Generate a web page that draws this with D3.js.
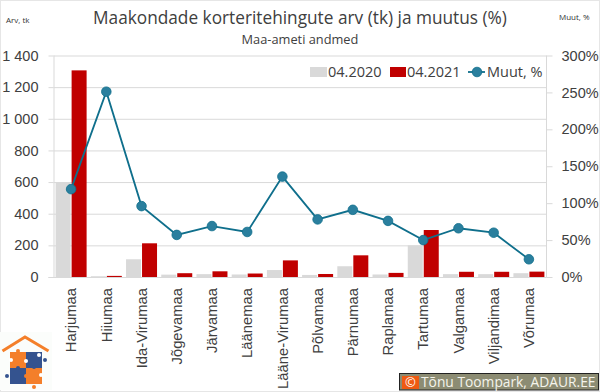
<!DOCTYPE html>
<html>
<head>
<meta charset="utf-8">
<script src="https://cdn.jsdelivr.net/npm/d3@7"></script>
<style>
    html, body { margin: 0; padding: 0; background: #fff; }
    svg { display: block; font-family: "Open Sans", sans-serif; }
</style>
</head>
<body>
<svg id="chart" width="600" height="392"></svg>
<script>
const counties = ["Harjumaa", "Hiiumaa", "Ida-Virumaa", "Jõgevamaa", "Järvamaa", "Läänemaa", "Lääne-Virumaa",
    "Põlvamaa", "Pärnumaa", "Raplamaa", "Tartumaa", "Valgamaa", "Viljandimaa", "Võrumaa"];
const values2020 = [600, 5, 112, 15, 18, 16, 44, 13, 68, 16, 200, 18, 18, 24];
const values2021 = [1306, 7, 213, 24, 36, 22, 105, 19, 137, 26, 297, 33, 33, 34];
const changePct = [119, 251, 96, 57, 69, 61, 136, 78, 91, 76, 50, 66, 60, 24];
const countTicks = [0, 200, 400, 600, 800, 1000, 1200, 1400];
const pctTicks = [0, 50, 100, 150, 200, 250, 300];

const GREY = "#d9d9d9", RED = "#c00000", TEAL = "#0f6f8c", MARKER = "#2a7f9e", GRID = "#d9d9d9", TEXT = "#404040";
const plotLeft = 53.5, plotRight = 546.5, plotTop = 55.5, plotBottom = 277;

const svg = d3.select("#chart");

// faint picture frame
svg.append("rect").attr("x", 0.5).attr("y", 0.5).attr("width", 599).attr("height", 391)
    .attr("fill", "#fff").attr("stroke", "#e6e6e6");

const x = d3.scaleBand().domain(counties).range([plotLeft, plotRight]);
const y = d3.scaleLinear().domain([0, 1400]).range([plotBottom, plotTop]);
const yPct = d3.scaleLinear().domain([0, 300]).range([plotBottom, plotTop]);
const barW = 15;

// left axis, the ticks double as gridlines
const yAxis = svg.append("g").attr("transform", `translate(${plotLeft},0)`)
    .call(d3.axisLeft(y).tickValues(countTicks).tickSize(5)
        .tickFormat(d => d3.format(",")(d).replace(",", " ")));
yAxis.select(".domain").attr("stroke", GRID).attr("d", `M0.5,${plotTop}V${plotBottom}`);
yAxis.selectAll(".tick line").attr("stroke", GRID).clone()
    .attr("x1", 0).attr("x2", plotRight - plotLeft);
yAxis.selectAll(".tick text").attr("x", -15).attr("fill", TEXT).attr("font-size", 14.5);

const yAxisR = svg.append("g").attr("transform", `translate(${plotRight},0)`)
    .call(d3.axisRight(yPct).tickValues(pctTicks).tickSize(6).tickFormat(d => d + "%"));
yAxisR.select(".domain").attr("stroke", GRID).attr("d", `M0,${plotTop}V${plotBottom}`);
yAxisR.selectAll(".tick line").attr("stroke", GRID);
yAxisR.selectAll(".tick text").attr("x", 15).attr("fill", TEXT).attr("font-size", 14.5);

// bars
const center = d => x(d) + x.bandwidth() / 2;
svg.append("g").selectAll("rect").data(counties).join("rect")
    .attr("x", d => center(d) - barW - 0.5)
    .attr("width", barW)
    .attr("y", (d, i) => y(values2020[i]))
    .attr("height", (d, i) => plotBottom - y(values2020[i]))
    .attr("fill", GREY);
svg.append("g").selectAll("rect").data(counties).join("rect")
    .attr("x", d => center(d) + 0.5)
    .attr("width", barW)
    .attr("y", (d, i) => y(values2021[i]))
    .attr("height", (d, i) => plotBottom - y(values2021[i]))
    .attr("fill", RED);

// baseline + category labels
const xAxis = svg.append("g").attr("transform", `translate(0,${plotBottom})`)
    .call(d3.axisBottom(x).tickSize(0));
xAxis.select(".domain").attr("stroke", GRID).attr("d", `M${plotLeft - 5},0.5H${plotRight}`);
xAxis.selectAll(".tick text")
    .attr("transform", "rotate(-90)")
    .attr("text-anchor", "end")
    .attr("x", -11).attr("y", 0).attr("dy", "0.35em")
    .attr("fill", TEXT).attr("font-size", 14.8);

// change line
const line = d3.line().x(d => center(d)).y((d, i) => yPct(changePct[i]));
svg.append("path").datum(counties).attr("d", line)
    .attr("fill", "none").attr("stroke", TEAL).attr("stroke-width", 1.8);
svg.append("g").selectAll("circle").data(counties).join("circle")
    .attr("cx", d => center(d))
    .attr("cy", (d, i) => yPct(changePct[i]))
    .attr("r", 4.8)
    .attr("fill", MARKER).attr("stroke", TEAL).attr("stroke-width", 0.8);

// titles
svg.append("text").attr("x", 300).attr("y", 24).attr("text-anchor", "middle")
    .attr("fill", TEXT).attr("font-size", 17.25).text("Maakondade korteritehingute arv (tk) ja muutus (%)");
svg.append("text").attr("x", 300).attr("y", 44).attr("text-anchor", "middle")
    .attr("fill", TEXT).attr("font-size", 12.8).text("Maa-ameti andmed");
svg.append("text").attr("x", 6).attr("y", 23).attr("fill", "#333").attr("font-size", 8).text("Arv, tk");
svg.append("text").attr("x", 559).attr("y", 20).attr("fill", "#333").attr("font-size", 8).text("Muut, %");

// legend
const legend = svg.append("g").attr("font-size", 14.5).attr("fill", TEXT);
legend.append("rect").attr("x", 310).attr("y", 67).attr("width", 17).attr("height", 10).attr("fill", GREY);
legend.append("text").attr("x", 328).attr("y", 77).text("04.2020");
legend.append("rect").attr("x", 390).attr("y", 67).attr("width", 16).attr("height", 10).attr("fill", RED);
legend.append("text").attr("x", 407).attr("y", 77).text("04.2021");
legend.append("line").attr("x1", 468).attr("x2", 485).attr("y1", 72).attr("y2", 72)
    .attr("stroke", TEAL).attr("stroke-width", 1.8);
legend.append("circle").attr("cx", 477).attr("cy", 72).attr("r", 4.8)
    .attr("fill", MARKER).attr("stroke", TEAL).attr("stroke-width", 0.8);
legend.append("text").attr("x", 487).attr("y", 77).text("Muut, %");

// logo: house roof over four puzzle pieces
const logo = svg.append("g");
const ORANGE = "#f47f2a", BLUE = "#34538f";
logo.append("rect").attr("x", 0).attr("y", 332).attr("width", 52).attr("height", 58).attr("fill", "#fbfdfb");
logo.append("path").attr("d", "M2.5,351 L25,337 L48.5,351").attr("fill", "none")
    .attr("stroke", ORANGE).attr("stroke-width", 3);
logo.append("rect").attr("x", 10).attr("y", 352).attr("width", 16).attr("height", 16).attr("fill", ORANGE);
logo.append("rect").attr("x", 26).attr("y", 352).attr("width", 16).attr("height", 16).attr("fill", BLUE);
logo.append("rect").attr("x", 10).attr("y", 368).attr("width", 16).attr("height", 16).attr("fill", BLUE);
logo.append("rect").attr("x", 26).attr("y", 368).attr("width", 16).attr("height", 16).attr("fill", ORANGE);
[[18, 351, ORANGE], [45, 360, BLUE], [7, 376, BLUE], [34, 387, ORANGE], [34, 367, BLUE], [18, 368, BLUE], [26, 376, ORANGE]]
    .forEach(k => logo.append("circle").attr("cx", k[0]).attr("cy", k[1]).attr("r", 2).attr("fill", k[2]));
[[11, 360], [26, 361], [41, 375], [39, 355]]
    .forEach(k => logo.append("circle").attr("cx", k[0]).attr("cy", k[1]).attr("r", 2).attr("fill", "#fff"));

// copyright badge
svg.append("rect").attr("x", 399.5).attr("y", 373.5).attr("width", 199).attr("height", 16.5)
    .attr("fill", "#8c8c73").attr("stroke", "#222").attr("stroke-width", 1);
svg.append("rect").attr("x", 402).attr("y", 376).attr("width", 17).attr("height", 13).attr("fill", "#ee5a12");
svg.append("text").attr("x", 410.5).attr("y", 387).attr("text-anchor", "middle")
    .attr("fill", "#fff").attr("font-size", 13).text("©");
svg.append("text").attr("x", 421).attr("y", 387).attr("fill", "#f4f4ec").attr("font-size", 13.8)
    .text("Tõnu Toompark, ADAUR.EE");
</script>
</body>
</html>
